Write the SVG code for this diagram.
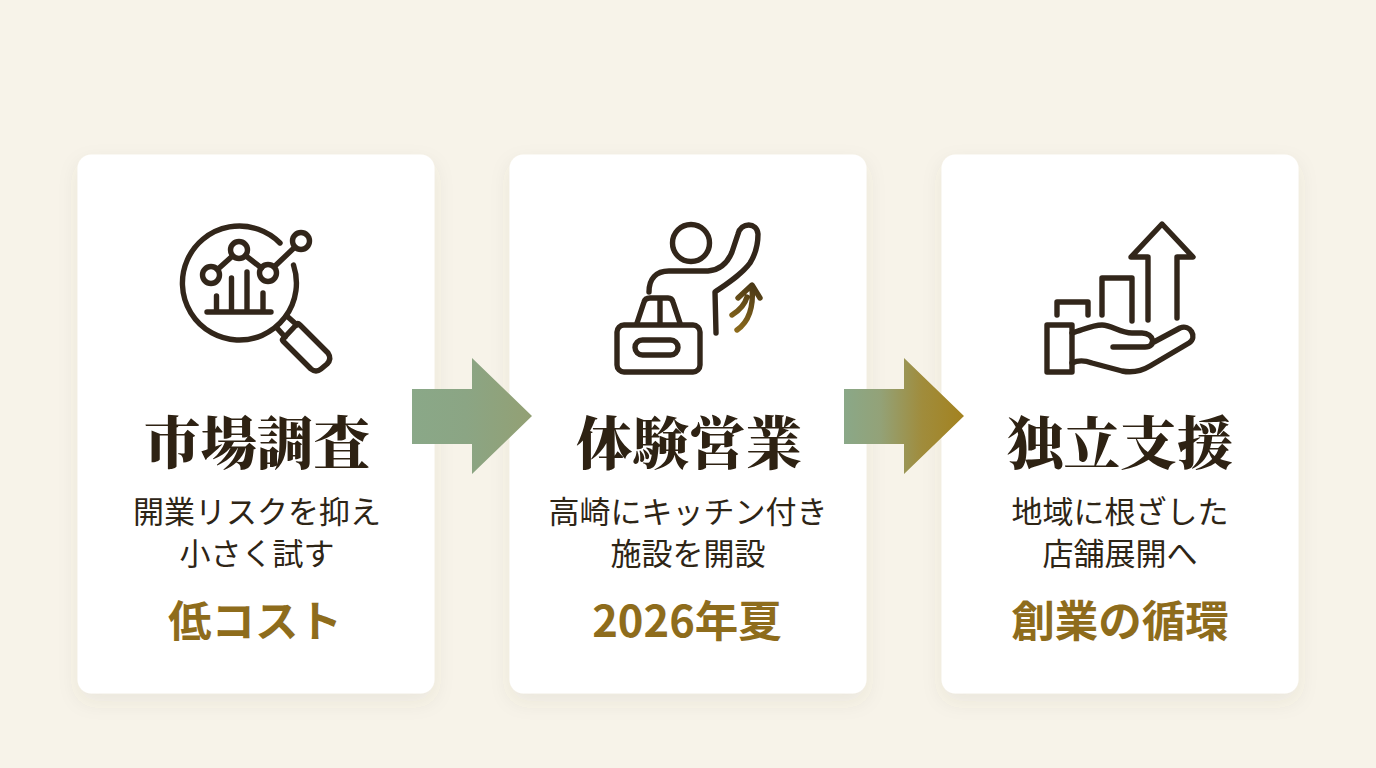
<svg xmlns="http://www.w3.org/2000/svg" width="1376" height="768" viewBox="0 0 1376 768">
<style>
.card{fill:#fff;filter:url(#sh)}
.ic{fill:none;stroke:#32261a;stroke-width:5.400;stroke-linecap:round;stroke-linejoin:round}
text{text-anchor:middle}
.t{font-family:"Noto Serif CJK JP","Noto Sans CJK JP",serif;font-weight:900;font-size:56.500px;fill:#2e2213}
.b{font-family:"Noto Sans CJK JP",sans-serif;font-size:31px;fill:#2e2516}
.g{font-family:"Noto Sans CJK JP",sans-serif;font-weight:700;font-size:43.500px;fill:#8e6c1c}
</style>
<defs>
<filter id="sh" x="-15%" y="-15%" width="130%" height="130%"><feDropShadow dx="0" dy="8" stdDeviation="10" flood-color="#5a5040" flood-opacity="0.08"/></filter>
<linearGradient id="a1" gradientUnits="userSpaceOnUse" x1="412" y1="0" x2="532" y2="0"><stop offset="0" stop-color="#8aa888"/><stop offset="0.45" stop-color="#8ba584"/><stop offset="1" stop-color="#93a074"/></linearGradient>
<linearGradient id="a2" gradientUnits="userSpaceOnUse" x1="844" y1="0" x2="964" y2="0"><stop offset="0" stop-color="#8aa888"/><stop offset="0.3" stop-color="#93a278"/><stop offset="0.65" stop-color="#a08c3c"/><stop offset="1" stop-color="#a3821f"/></linearGradient>
<linearGradient id="up" gradientUnits="userSpaceOnUse" x1="732" y1="330" x2="755" y2="285"><stop offset="0" stop-color="#8e6c1c"/><stop offset="1" stop-color="#4a3816"/></linearGradient>
</defs>
<rect width="1376" height="768" fill="#f7f3e9"/>
<g id="card-1">
<rect class="card" x="77.500" y="154.500" width="357" height="539" rx="14"/>
<g class="ic">
<path d="M280 243A57 57 0 1 0 293.500 265"/>
<circle cx="211" cy="275" r="8.500"/><circle cx="239" cy="250" r="8.500"/><circle cx="268" cy="273" r="8.500"/><circle cx="301" cy="241" r="8.500"/>
<path d="M217.500 269.500L232.500 256M245.500 255.500L261.500 268M274.500 266.500L295 247"/>
<path d="M207 312H271M216.500 296V312M231.500 278V312M247 272V312M263 293V312"/>
<path d="M288 317L297 325M277 328L285 337"/>
<path d="M283 339L297 324Q298 323 300 325L328 353Q332 359 327 364L321 369Q316 373 311 369L283 341Q282 340 283 339Z"/>
</g>
<text class="t" x="257" y="464">市場調査</text>
<text class="b" x="257" y="523">開業リスクを抑え</text>
<text class="b" x="257" y="565">小さく試す</text>
<text class="g" x="255" y="637">低コスト</text>
</g>
<g id="card-2">
<rect class="card" x="509.500" y="154.500" width="357" height="539" rx="14"/>
<g class="ic">
<circle cx="691" cy="243" r="18.500"/>
<path d="M649 292C649 279 656 271 669 271H708C720 270 728 262 732 252L738 234C741 222 757 222 758 234C758 245 755 255 750 263C742 274 728 283 715 292L716 333"/>
<rect x="617" y="325" width="83" height="47" rx="7"/>
<rect x="635" y="340" width="43" height="15" rx="7.500"/>
<path d="M637 323L644 302Q645 298 650 298H668Q672 298 673 302L680 323M660 298V323"/>
<path d="M732 315C740 310 745 304 747 297M738 298L752 285L760 298M737 330C747 323 754 310 752 287" stroke="url(#up)"/>
</g>
<text class="t" x="689" y="464">体験営業</text>
<text class="b" x="688" y="523">高崎にキッチン付き</text>
<text class="b" x="688" y="565">施設を開設</text>
<text class="g" x="687" y="637">2026年夏</text>
</g>
<g id="card-3">
<rect class="card" x="941.500" y="154.500" width="357" height="539" rx="14"/>
<g class="ic">
<path d="M1057 315V302H1088V315M1102 315V278H1132V321M1148 320V257H1131L1162 224L1193 257H1177V318"/>
<path d="M1047 325H1072V372H1047Z"/>
<path d="M1072 333C1083 330 1092 325 1102 325C1112 325 1120 333 1132 333H1142C1154 333 1157 347 1145 347H1113M1152 343L1180 328C1190 324 1198 337 1189 343L1150 366C1140 372 1132 373 1122 371L1092 363C1084 360 1078 360 1072 363"/>
</g>
<text class="t" x="1120" y="464">独立支援</text>
<text class="b" x="1120" y="523">地域に根ざした</text>
<text class="b" x="1120" y="565">店舗展開へ</text>
<text class="g" x="1120" y="637">創業の循環</text>
</g>
<g id="connectors">
<path d="M412 389H472V358L532 416L472 474V444H412Z" fill="url(#a1)"/>
<path d="M844 389H904V358L964 416L904 474V444H844Z" fill="url(#a2)"/>
</g>
</svg>
